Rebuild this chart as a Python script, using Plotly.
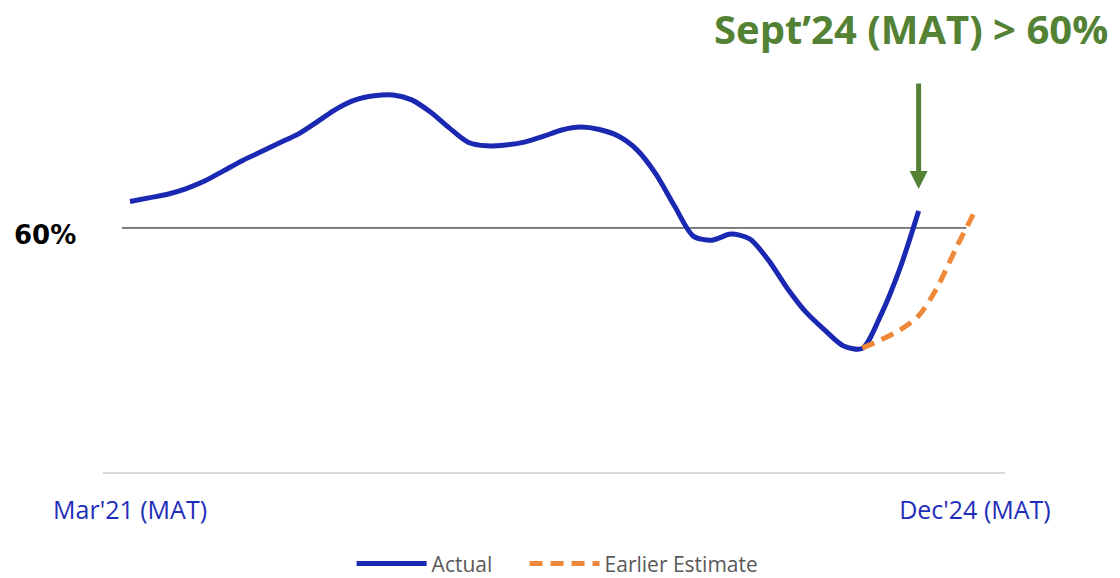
import plotly.graph_objects as go

# Monthly MAT index: 0 = Mar'21 ... 45 = Dec'24
TICK_POS = [0, 45]
TICK_TEXT = ["Mar'21 (MAT)", "Dec'24 (MAT)"]

actual_x = list(range(0, 43))  # Mar'21 .. Sep'24
actual_y = [66.5, 67.4, 68.3, 69.7, 71.6, 74.1, 76.6, 78.8, 81.0, 83.2,
            86.2, 89.3, 91.5, 92.5, 92.7, 91.5, 88.5, 84.6, 81.1, 80.2,
            80.4, 81.1, 82.5, 84.1, 84.8, 84.2, 82.6, 79.2, 73.3, 65.4,
            58.0, 57.0, 58.5, 57.3, 52.1, 45.2, 39.3, 34.9, 31.0, 30.4,
            38.7, 50.0, 64.2]

estimate_x = list(range(39, 46))  # Jun'24 .. Dec'24
estimate_y = [30.5, 32.5, 34.9, 38.4, 45.5, 55.1, 64.2]

THRESHOLD = 60
TITLE = "Sept’24 (MAT) > 60%"
SERIES_NAMES = ["Actual", "Earlier Estimate"]

BLUE = "#1B28B2"
ORANGE = "#F0883A"
GREEN = "#548235"

fig = go.Figure()
fig.add_trace(go.Scatter(
    x=actual_x, y=actual_y, mode="lines",
    name=SERIES_NAMES[0] + "\u00a0" * 5,
    line=dict(color=BLUE, width=5, shape="spline", smoothing=0.8),
))
fig.add_trace(go.Scatter(
    x=estimate_x, y=estimate_y, mode="lines", name=SERIES_NAMES[1],
    line=dict(color=ORANGE, width=5, shape="spline", smoothing=0.8,
              dash="13px,8px"),
))

fig.add_shape(type="line", xref="paper", yref="y",
              x0=0.021, x1=0.957, y0=THRESHOLD, y1=THRESHOLD,
              line=dict(color="black", width=1), layer="below")

fig.add_annotation(xref="paper", yref="y", x=-0.0277, y=THRESHOLD,
                   text=f"<b>{THRESHOLD}%</b>", showarrow=False,
                   xanchor="right", yanchor="middle", yshift=-7,
                   font=dict(family="DejaVu Sans", size=26, color="black"))

fig.add_annotation(xref="paper", yref="paper", x=0.896, y=1.077,
                   text=f"<b>{TITLE}</b>", showarrow=False,
                   xanchor="center", yanchor="middle",
                   font=dict(family="Open Sans", size=40, color=GREEN))

fig.add_annotation(x=actual_x[-1], y=actual_y[-1], text="",
                   showarrow=True, ax=0, ay=-129, standoff=22,
                   arrowhead=2, arrowsize=0.72, arrowwidth=5,
                   arrowcolor=GREEN)

fig.update_layout(
    width=1120, height=578,
    margin=dict(l=103, r=115, t=60, b=106, autoexpand=False),
    plot_bgcolor="white", paper_bgcolor="white",
    showlegend=True,
    legend=dict(orientation="h", x=0.504, xanchor="center",
                y=-0.223, yanchor="middle", itemwidth=70,
                font=dict(family="Open Sans", size=21, color="#595959"),
                traceorder="normal"),
    xaxis=dict(range=[-1.44, 46.6], tickvals=TICK_POS, ticktext=TICK_TEXT,
               showgrid=False, zeroline=False, showline=True,
               linecolor="#D9D9D9", linewidth=2, automargin=False,
               ticks="outside", ticklen=15, tickcolor="rgba(0,0,0,0)",
               tickfont=dict(family="Open Sans", size=25, color="#1F2DBB")),
    yaxis=dict(range=[0, 101.3], visible=False),
)

fig.write_html("out.html", config={"displayModeBar": False},
               post_script="document.body.style.margin='0';"
                           "document.body.style.overflow='hidden';")
